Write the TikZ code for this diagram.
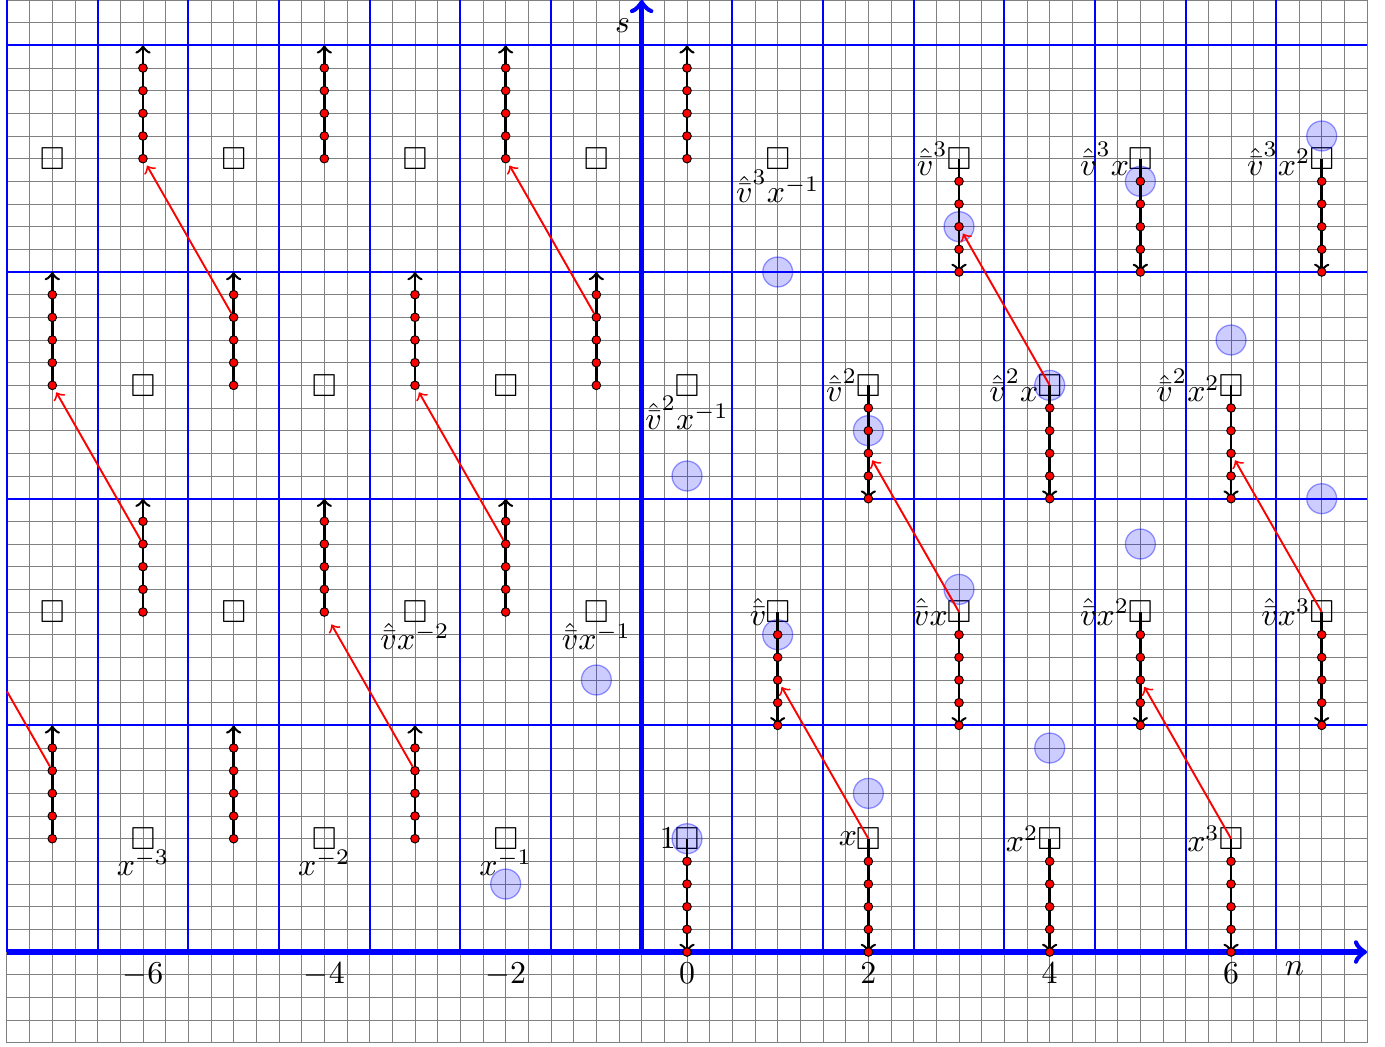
\documentclass[tikz,border=0pt]{standalone}
\usepackage{amssymb}
\newcommand{\hvb}{\hat{\bar{v}}}
\tikzset{
  gridl/.style={gray, line width=0.3pt},
  bluel/.style={blue, line width=0.6pt},
  axisl/.style={blue, line width=1.6pt, ->},
  chainl/.style={black, thick, ->},
  dotn/.style={circle, fill=red, draw=black, line width=0.3pt, inner sep=0pt, minimum size=0.095cm},
  redarr/.style={red, semithick, ->, shorten >=1pt},
  bcirc/.style={fill=blue, fill opacity=0.2, draw=blue, draw opacity=0.4, line width=0.4pt},
  boxn/.style={inner sep=0pt},
}
\begin{document}
\begin{tikzpicture}
\useasboundingbox (-7.577,-1.037) rectangle (7.698,10.5);
% fine grid
\draw[gridl] (-7.5,-1) grid[step=0.25] (7.5,10.5);
% blue grid
\foreach \x in {-7.5,-6.5,...,6.5} \draw[bluel] (\x,0) -- (\x,10.5);
\foreach \y in {2.5,5,7.5,10} \draw[bluel] (-7.5,\y) -- (7.5,\y);
% axes
\coordinate (nA) at (-7.5,0); \coordinate (nB) at (7.5,0);
\coordinate (sA) at (-0.5,0); \coordinate (sB) at (-0.5,10.5);
\draw[axisl] (nA) -- (nB);
\draw[axisl] (sA) -- (sB);
\node (nl) at (6.7,-0.18) {$n$};
\node (sl) at (-0.71,10.22) {$s$};
\foreach \n in {-6,-4,...,6} \node[below] (t\n) at (\n,0) {$\n$};
% boxes
\foreach \n in {-6,-4,-2,0,2,4,6} \node[boxn] (b\n x1) at (\n,1.25) {$\square$};
\foreach \n in {-7,-5,-3,-1,1,3,5,7} \node[boxn] (b\n x2) at (\n,3.75) {$\square$};
\foreach \n in {-6,-4,-2,0,2,4,6} \node[boxn] (b\n x3) at (\n,6.25) {$\square$};
\foreach \n in {-7,-5,-3,-1,1,3,5,7} \node[boxn] (b\n x4) at (\n,8.75) {$\square$};
% labels
\node[below] (la1) at (b-6x1.center) {$x^{-3}$};
\node[below] (la2) at (b-4x1.center) {$x^{-2}$};
\node[below] (la3) at (b-2x1.center) {$x^{-1}$};
\node[left] (la4) at (b0x1.center) {$1$};
\node[left] (la5) at (b2x1.center) {$x$};
\node[left] (la6) at (b4x1.center) {$x^2$};
\node[left] (la7) at (b6x1.center) {$x^3$};
\node[below] (lb1) at (b-3x2.center) {$\hvb x^{-2}$};
\node[below] (lb2) at (b-1x2.center) {$\hvb x^{-1}$};
\node[left] (lb3) at (b1x2.center) {$\hvb$};
\node[left] (lb4) at (b3x2.center) {$\hvb x$};
\node[left] (lb5) at (b5x2.center) {$\hvb x^2$};
\node[left] (lb6) at (b7x2.center) {$\hvb x^3$};
\node[below] (lc1) at (b0x3.center) {$\hvb^2x^{-1}$};
\node[left] (lc2) at (b2x3.center) {$\hvb^2$};
\node[left] (lc3) at (b4x3.center) {$\hvb^2x$};
\node[left] (lc4) at (b6x3.center) {$\hvb^2x^2$};
\node[below] (ld1) at (b1x4.center) {$\hvb^3x^{-1}$};
\node[left] (ld2) at (b3x4.center) {$\hvb^3$};
\node[left] (ld3) at (b5x4.center) {$\hvb^3x$};
\node[left] (ld4) at (b7x4.center) {$\hvb^3x^2$};
% circles
\foreach \n/\s in {-2/0.75,-1/3.0,0/5.25,1/7.5, 0/1.25,1/3.5,2/5.75,3/8.0,
  2/1.75,3/4.0,4/6.25,5/8.5, 4/2.25,5/4.5,6/6.75,7/9.0, 7/5.0}
  \draw[bcirc] (\n,\s) circle (0.165);
% down chains
\foreach \n/\r/\s in {0/1/1.25, 2/1/1.25, 4/1/1.25, 6/1/1.25,
  1/2/3.75, 3/2/3.75, 5/2/3.75, 7/2/3.75,
  2/3/6.25, 4/3/6.25, 6/3/6.25,
  3/4/8.75, 5/4/8.75, 7/4/8.75} {
  \coordinate (dt\n x\r) at (\n,\s-1.25);
  \draw[chainl] (b\n x\r.center) -- (dt\n x\r);
  \foreach \k in {1,...,5} \node[dotn] (d\n x\r x\k) at (\n,\s-0.25*\k) {};
}
% up chains
\foreach \n/\r/\s in {-7/1/1.25, -5/1/1.25, -3/1/1.25,
  -6/2/3.75, -4/2/3.75, -2/2/3.75,
  -7/3/6.25, -5/3/6.25, -3/3/6.25, -1/3/6.25,
  -6/4/8.75, -4/4/8.75, -2/4/8.75, 0/4/8.75} {
  \coordinate (ub\n x\r) at (\n,\s);
  \coordinate (ut\n x\r) at (\n,\s+1.25);
  \draw[chainl] (ub\n x\r) -- (ut\n x\r);
  \foreach \k in {0,...,4} \node[dotn] (u\n x\r x\k) at (\n,\s+0.25*\k) {};
}
% red arrows
\draw[redarr] (u-5x3x3) -- (u-6x4x0);
\draw[redarr] (u-1x3x3) -- (u-2x4x0);
\draw[redarr] (u-6x2x3) -- (u-7x3x0);
\draw[redarr] (u-2x2x3) -- (u-3x3x0);
\draw[redarr, shorten >=3pt] (u-3x1x3) -- (u-4x2x0);
\coordinate (offL) at (-7.5,2.875);
\draw[red, semithick] (u-7x1x3) -- (offL);
\draw[redarr] (b2x1.center) -- (d1x2x3);
\draw[redarr] (b6x1.center) -- (d5x2x3);
\draw[redarr] (b3x2.center) -- (d2x3x3);
\draw[redarr] (b7x2.center) -- (d6x3x3);
\draw[redarr] (b4x3.center) -- (d3x4x3);
\end{tikzpicture}
\end{document}
